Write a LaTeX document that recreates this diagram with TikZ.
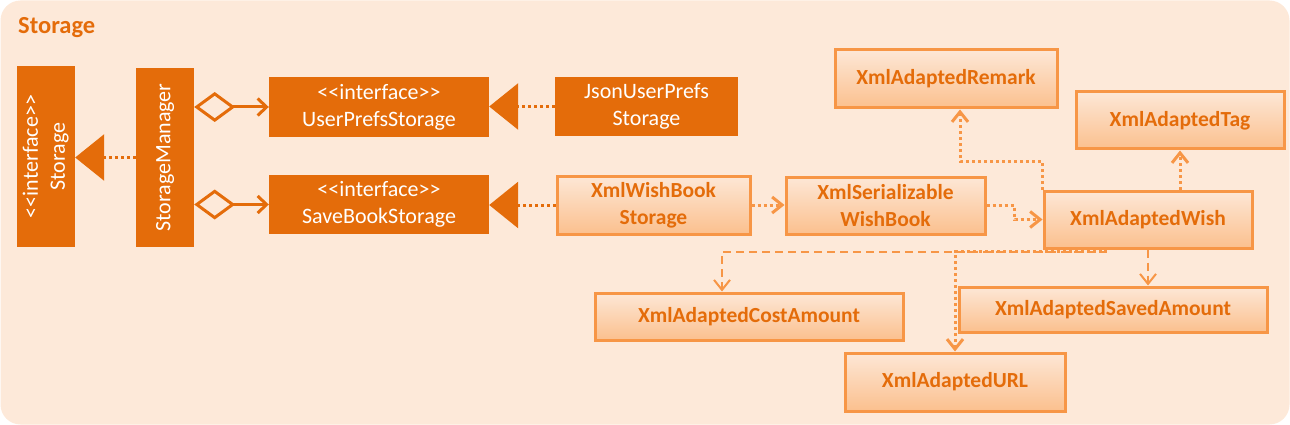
\documentclass[tikz,border=0pt]{standalone}
\usepackage{fontspec}
\usepackage{graphicx}
\setmainfont{Carlito}
\usetikzlibrary{arrows.meta,calc}
\definecolor{dark}{HTML}{E46C0A}
\definecolor{light}{HTML}{F79646}
\definecolor{bg}{HTML}{FDE9D9}
\definecolor{ltop}{HTML}{FDE7D6}
\definecolor{lbot}{HTML}{FBC08E}
\begin{document}
\begin{tikzpicture}[x=1pt,y=-1pt,
  darkbox/.style={fill=dark,draw=none,text=white,inner sep=0pt,align=center,font=\fontsize{22}{27}\selectfont},
  lightbox/.style={draw=light,line width=3pt,top color=ltop,bottom color=lbot,text=dark,inner sep=0pt,align=center,font=\bfseries\fontsize{21.5}{27}\selectfont},
  dk/.style={draw=dark,line width=3pt},
  dotdk/.style={dk,dash pattern=on 3pt off 3pt},
  inh/.style={-{Triangle[length=29pt,width=46pt]}},
  agg/.style={{Diamond[open,length=41pt,width=30pt]}-{Straight Barb[length=9pt,width=17pt]}},
  lt/.style={draw=light,line width=3pt},
  dotlt/.style={lt,dash pattern=on 3pt off 3pt},
  dashlt/.style={draw=light,line width=2pt,dash pattern=on 8pt off 5pt},
  barb/.style={-{Straight Barb[length=10pt,width=16pt]}}
]
\useasboundingbox (0,0) rectangle (1290,425);
\fill[bg,rounded corners=20pt] (0.5,0.5) rectangle (1289.5,424.5);

\node[anchor=west,text=dark,font=\bfseries\fontsize{24.5}{28}\selectfont,inner sep=0pt] (title) at (18,28) {Storage};

% dark boxes
\node[darkbox,minimum width=58pt,minimum height=181pt] (storage) at (46,156.5)
  {\rotatebox{90}{\begin{tabular}{@{}c@{}}<{}<interface>{}>\\Storage\end{tabular}}};
\node[darkbox,minimum width=58pt,minimum height=179pt] (mgr) at (165,157.5)
  {\rotatebox{90}{StorageManager}};
\node[darkbox,minimum width=220pt,minimum height=60pt] (ups) at (379,107)
  {<{}<interface>{}>\\UserPrefsStorage};
\node[darkbox,minimum width=220pt,minimum height=59pt] (sbs) at (379,204.5)
  {<{}<interface>{}>\\SaveBookStorage};
\node[darkbox,minimum width=183pt,minimum height=59pt] (json) at (646.5,106.5)
  {JsonUserPrefs\\Storage};

% light boxes
\node[lightbox,minimum width=193pt,minimum height=58pt] (xwbs) at (653.5,205) {XmlWishBook\\Storage};
\node[lightbox,minimum width=199pt,minimum height=57pt] (xsw) at (885.5,205.5) {XmlSerializable\\WishBook};
\node[lightbox,minimum width=208pt,minimum height=57pt] (wish) at (1148,219.5) {XmlAdaptedWish};
\node[lightbox,minimum width=222pt,minimum height=58pt] (remark) at (946,79) {XmlAdaptedRemark};
\node[lightbox,minimum width=208pt,minimum height=57pt] (tag) at (1180,120.5) {XmlAdaptedTag};
\node[lightbox,minimum width=308pt,minimum height=47pt] (cost) at (749,316.5) {XmlAdaptedCostAmount};
\node[lightbox,minimum width=308pt,minimum height=45pt] (saved) at (1113,309.5) {XmlAdaptedSavedAmount};
\node[lightbox,minimum width=220pt,minimum height=58pt] (url) at (955,382) {XmlAdaptedURL};

% dark connectors
\draw[dotdk,inh] (mgr.west) -- (mgr.west -| storage.east);
\draw[dk,agg] (mgr.east |- ups.west) -- (ups.west);
\draw[dk,agg] (mgr.east |- sbs.west) -- (sbs.west);
\draw[dotdk,inh] (json.west) -- (json.west -| ups.east);
\draw[dotdk,inh] (xwbs.west) -- (xwbs.west -| sbs.east);

% light connectors
\draw[dotlt,barb] (xwbs.east) -- (xwbs.east -| xsw.west);
\draw[dotlt,barb] (xsw.east) -- ++(28,0) |- (wish.west);
\draw[dotlt,barb] (wish.north west) -- ++(0,-28) -| ($(remark.south)+(14,0)$);
\draw[dotlt,barb] (tag.south |- wish.north) -- (tag.south);
\draw[dashlt,barb] ($(wish.south west)+(63,0)$) -- ++(0,2) -| ($(cost.north)+(-27,0)$);
\draw[dotlt,barb] ($(wish.south west)+(63,0)$) -- ++(0,2) -| (url.north);
\draw[dashlt,barb] (wish.south) -- (wish.south |- saved.north);
\end{tikzpicture}
\end{document}
